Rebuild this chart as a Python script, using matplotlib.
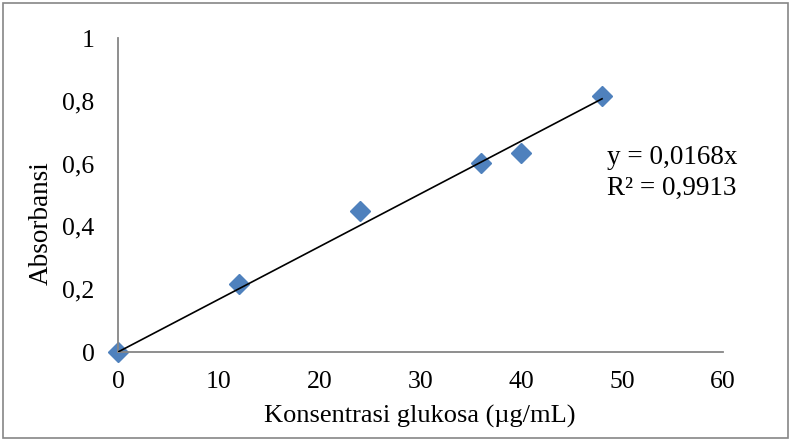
import numpy as np
import matplotlib.pyplot as plt
from matplotlib.patches import Rectangle

# Glucose standard curve data
konsentrasi = [0, 12, 24, 36, 40, 48]
absorbansi = [0, 0.217, 0.449, 0.601, 0.634, 0.815]
slope = 0.0168
r2 = 0.9913

x_ticks = [0, 10, 20, 30, 40, 50, 60]
y_ticks = [0, 0.2, 0.4, 0.6, 0.8, 1]
y_tick_labels = ["0", "0,2", "0,4", "0,6", "0,8", "1"]

plt.rcParams['font.family'] = ['Liberation Serif', 'DejaVu Serif']

fig = plt.figure(figsize=(7.91, 4.41), dpi=100)
ax = fig.add_axes([0.1492, 0.2018, 0.7649, 0.712])

# trendline through origin
xt = np.array([0, max(konsentrasi)])
ax.plot(xt, slope * xt, color='black', lw=1.2, zorder=3)

ax.plot(konsentrasi, absorbansi, linestyle='none', marker='D', markersize=10,
        color='#4F81BD', markeredgecolor='#4F81BD', zorder=2, clip_on=False)

ax.set_xlim(0, 60)
ax.set_ylim(0, 1)
ax.set_xticks(x_ticks)
ax.set_yticks(y_ticks)
ax.set_yticklabels(y_tick_labels)
ax.tick_params(axis='both', length=0, labelsize=18.5)
ax.tick_params(axis='y', pad=17)
ax.tick_params(axis='x', pad=14)

for s in ['top', 'right']:
    ax.spines[s].set_visible(False)
for s in ['left', 'bottom']:
    ax.spines[s].set_color('#868686')
    ax.spines[s].set_linewidth(1.3)

ax.set_xlabel('Konsentrasi glukosa (µg/mL)', fontsize=19)
ax.xaxis.set_label_coords(0.499, -0.168)
ax.set_ylabel('Absorbansi', fontsize=19.5)
ax.yaxis.set_label_coords(-0.106, 0.41)

ax.text(48.5, 0.57, 'y = 0,0168x\nR² = 0,9913', fontsize=19.5,
        ha='left', va='center', linespacing=1.3)

# outer chart border
fig.patches.append(Rectangle((0.004, 0.006), 0.992, 0.988, transform=fig.transFigure,
                             fill=False, edgecolor='#868686', lw=1.2))

fig.savefig('out.png', dpi=100)
